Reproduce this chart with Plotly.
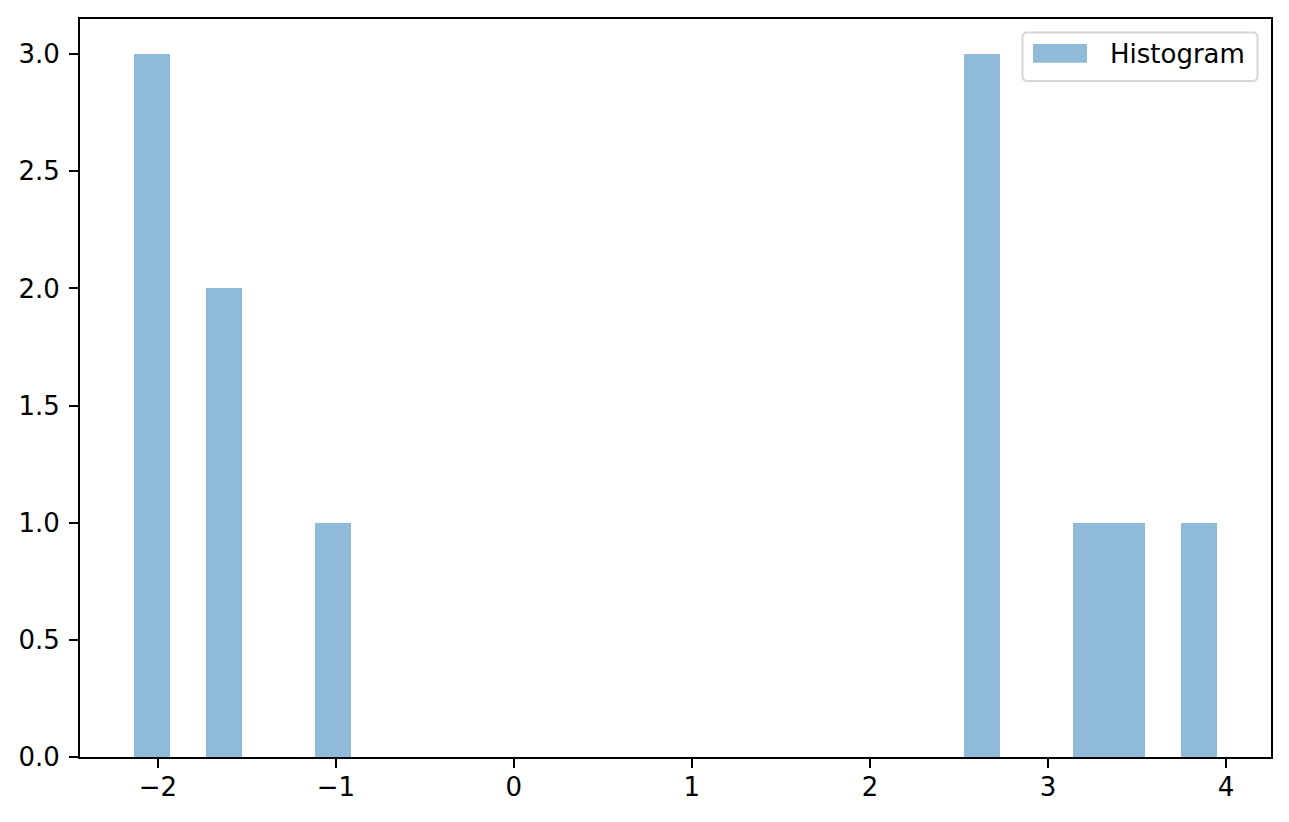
import plotly.graph_objects as go

# Histogram data (30 equal bins)
bin_start = -2.133
bin_end = 3.949
counts = [3, 0, 2, 0, 0, 1, 0, 0, 0, 0,
          0, 0, 0, 0, 0, 0, 0, 0, 0, 0,
          0, 0, 0, 3, 0, 0, 1, 1, 0, 1]
series_name = "Histogram"
x_tick_vals = [-2, -1, 0, 1, 2, 3, 4]
x_tick_text = ["\u22122", "\u22121", "0", "1", "2", "3", "4"]
y_tick_vals = [0.0, 0.5, 1.0, 1.5, 2.0, 2.5, 3.0]
y_tick_text = ["0.0", "0.5", "1.0", "1.5", "2.0", "2.5", "3.0"]

n_bins = len(counts)
w = (bin_end - bin_start) / n_bins
centers = [bin_start + (i + 0.5) * w for i in range(n_bins)]

span = bin_end - bin_start
x_range = [bin_start - 0.05 * span, bin_end + 0.05 * span]
y_range = [0, max(counts) * 1.05]

FONT = "DejaVu Sans"
FS = 26

fig = go.Figure()
fig.add_trace(go.Bar(
    x=centers, y=counts, width=w, name=series_name,
    marker=dict(color="rgba(31,119,180,0.5)", line=dict(width=0)),
    showlegend=False,
))

axis_common = dict(
    showline=True, linecolor="black", linewidth=2, mirror=True,
    ticks="outside", ticklen=9, tickwidth=2, tickcolor="black",
    showgrid=False, zeroline=False,
    tickfont=dict(family=FONT, size=FS, color="black"),
)

fig.update_layout(
    width=1289, height=822,
    margin=dict(l=80, r=18, t=19, b=64.5, pad=0),
    paper_bgcolor="white", plot_bgcolor="white",
    font=dict(family=FONT, size=FS, color="black"),
    bargap=0,
    xaxis=dict(range=x_range, tickmode="array", tickvals=x_tick_vals,
               ticktext=x_tick_text, ticklabelstandoff=-3, **axis_common),
    yaxis=dict(range=y_range, tickmode="array", tickvals=y_tick_vals,
               ticktext=y_tick_text, ticklabelstandoff=4, **axis_common),
)

# Manual legend (matplotlib style, rounded frame)
def px2x(px):
    return (px - 80) / (1271 - 80)
def py2y(py):
    return (757.5 - py) / (757.5 - 19)

L, R, T, B, r = 1022.5, 1257.5, 32.5, 81, 5
pts = lambda x, y: f"{px2x(x):.6f},{py2y(y):.6f}"
frame_path = (
    f"M {pts(L + r, T)} L {pts(R - r, T)} Q {pts(R, T)} {pts(R, T + r)} "
    f"L {pts(R, B - r)} Q {pts(R, B)} {pts(R - r, B)} "
    f"L {pts(L + r, B)} Q {pts(L, B)} {pts(L, B - r)} "
    f"L {pts(L, T + r)} Q {pts(L, T)} {pts(L + r, T)} Z"
)
fig.add_shape(type="path", xref="paper", yref="paper", path=frame_path,
              line=dict(color="#d6d6d6", width=2), fillcolor="rgba(255,255,255,0.8)",
              layer="above")
fig.add_shape(type="rect", xref="paper", yref="paper",
              x0=px2x(1033), x1=px2x(1087), y0=py2y(62.7), y1=py2y(44),
              line=dict(width=0), fillcolor="rgba(31,119,180,0.5)", layer="above")
fig.add_annotation(xref="paper", yref="paper", x=px2x(1108), y=py2y(54),
                   text=series_name, showarrow=False, xanchor="left", yanchor="middle",
                   font=dict(family=FONT, size=FS, color="black"))

fig.write_html("out.html", config={"displayModeBar": False},
               post_script="document.body.style.margin='0';document.body.style.overflow='hidden';")
